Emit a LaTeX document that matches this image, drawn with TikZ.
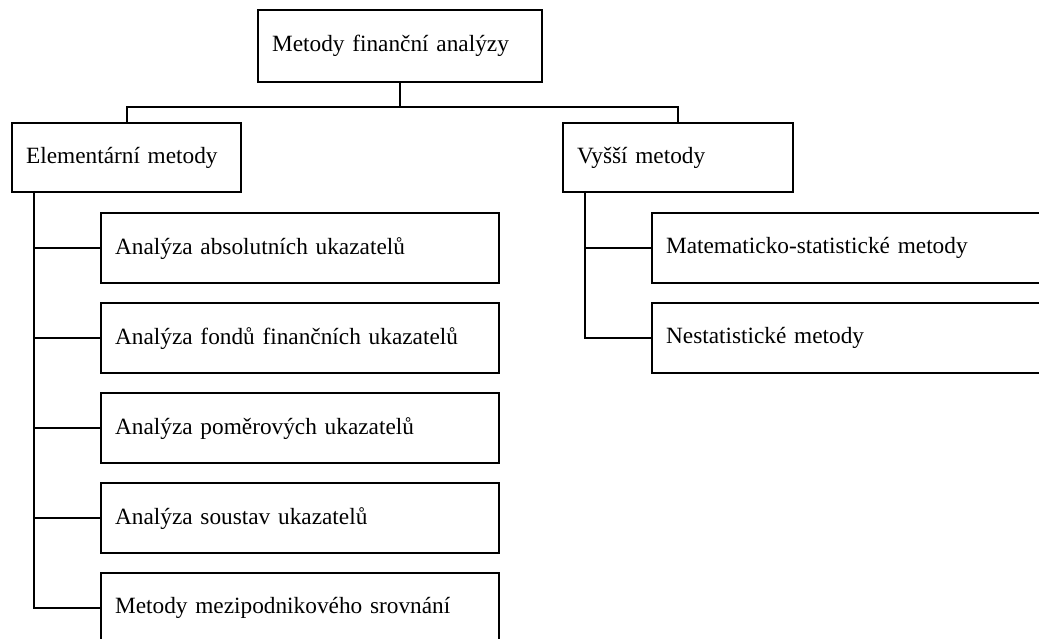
\documentclass[tikz,border=0pt]{standalone}
\usepackage{fontspec}
\setmainfont{Liberation Serif}
\begin{document}
\begin{tikzpicture}[x=1pt,y=-1pt,
  box/.style={draw, line width=2.2pt, anchor=north west, inner xsep=14pt, inner ysep=0pt,
    align=left, font=\fontsize{23.3}{28}\selectfont},
  conn/.style={line width=2.2pt}]
\useasboundingbox (0,0) rectangle (1039,639);
\clip (0,0) rectangle (1039,639);
\node[box, text width=256pt, minimum height=72pt] (top) at (257,9) {Metody finanční analýzy};
\node[box, text width=201pt, minimum height=69pt] (elem) at (11,122) {Elementární metody};
\node[box, text width=202pt, minimum height=69pt] (vys) at (562,122) {Vyšší metody};
\node[box, text width=370pt, minimum height=70pt] (c1) at (100,212) {Analýza absolutních ukazatelů};
\node[box, text width=370pt, minimum height=70pt] (c2) at (100,302) {Analýza fondů finančních ukazatelů};
\node[box, text width=370pt, minimum height=70pt] (c3) at (100,392) {Analýza poměrových ukazatelů};
\node[box, text width=370pt, minimum height=70pt] (c4) at (100,482) {Analýza soustav ukazatelů};
\node[box, text width=370pt, minimum height=70pt] (c5) at (100,572) {Metody mezipodnikového srovnání};
\node[box, text width=440pt, minimum height=70pt] (r1) at (651,212) {Matematicko-statistické metody};
\node[box, text width=440pt, minimum height=70pt] (r2) at (651,302) {Nestatistické metody};
\coordinate (busy) at (0,107);
\coordinate (et) at (34,191);
\coordinate (vt) at (585,191);
\draw[conn] (top.south) -- (top.south |- busy);
\draw[conn] (elem.north) -- (elem.north |- busy) -- (vys.north |- busy) -- (vys.north);
\draw[conn] (et) |- (c5.west);
\foreach \c in {c1,c2,c3,c4} \draw[conn] (et |- \c.west) -- (\c.west);
\draw[conn] (vt) |- (r2.west);
\draw[conn] (vt |- r1.west) -- (r1.west);
\end{tikzpicture}
\end{document}
